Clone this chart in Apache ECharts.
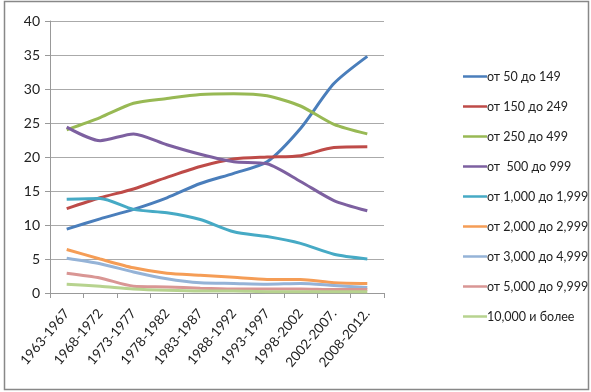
<!DOCTYPE html>
<html><head><meta charset="utf-8">
<script src="https://cdn.jsdelivr.net/npm/echarts@6/dist/echarts.min.js"></script>
<style>html,body{margin:0;padding:0;background:#fff}#c{width:591px;height:392px}</style>
</head><body><div id="c"></div>
<script>
const categories = ['1963-1967','1968-1972','1973-1977','1978-1982','1983-1987','1988-1992','1993-1997','1998-2002','2002-2007.','2008-2012.'];
const seriesNames = ['от 50 до 149','от 150 до 249','от 250 до 499','от  500 до 999','от 1,000 до 1,999','от 2,000 до 2,999','от 3,000 до 4,999','от 5,000 до 9,999','10,000 и более'];
const s50 = [9.4, 10.9, 12.3, 14.0, 16.1, 17.6, 19.3, 24.2, 30.8, 34.8];
const s150 = [12.4, 14.0, 15.3, 17.0, 18.6, 19.7, 20.0, 20.2, 21.4, 21.5];
const s250 = [24.0, 25.8, 27.9, 28.6, 29.2, 29.3, 29.0, 27.5, 24.8, 23.4];
const s500 = [24.4, 22.4, 23.4, 21.8, 20.4, 19.3, 19.0, 16.4, 13.6, 12.1];
const s1000 = [13.8, 13.9, 12.3, 11.8, 10.8, 9.0, 8.3, 7.3, 5.7, 5.0];
const s2000 = [6.4, 5.0, 3.7, 2.9, 2.6, 2.3, 2.0, 2.0, 1.5, 1.4];
const s3000 = [5.1, 4.3, 3.1, 2.1, 1.5, 1.4, 1.3, 1.4, 1.1, 0.8];
const s5000 = [2.9, 2.2, 1.0, 0.9, 0.7, 0.6, 0.6, 0.6, 0.5, 0.5];
const s10000 = [1.3, 1.0, 0.6, 0.4, 0.3, 0.3, 0.2, 0.2, 0.2, 0.2];
const allData = [s50, s150, s250, s500, s1000, s2000, s3000, s5000, s10000];
const colors = ['#4A7EBB','#BE4B48','#98B954','#7D60A0','#46AAC5','#F59D56','#95B3D7','#D99694','#B7D38F'];

const chart = echarts.init(document.getElementById('c'));
chart.setOption({
  animation: false,
  color: colors,
  textStyle: {fontFamily: 'Lato'},
  graphic: [{type:'rect', shape:{x:4.5,y:1.5,width:584,height:388}, style:{fill:'none', stroke:'#888', lineWidth:1.5}, silent:true}],
  grid: {left: 50, right: 207, top: 21, bottom: 99},
  legend: {
    orient: 'vertical', left: 458, top: 65, itemGap: 17,
    itemWidth: 24, itemHeight: 14,
    icon: 'path://M0,6 L24,6 L24,8.5 L0,8.5 Z',
    textStyle: {fontSize: 12.5, color: '#222', fontFamily: 'Lato', padding: [0,0,0,-5]},
    data: seriesNames
  },
  xAxis: {
    type: 'category', data: categories, boundaryGap: true,
    axisLine: {lineStyle: {color: '#999'}},
    axisTick: {show: true, length: 5, lineStyle: {color: '#999'}},
    axisLabel: {rotate: 50, margin: 18, fontSize: 13.5, color: '#222', interval: 0, fontFamily: 'Lato'}
  },
  yAxis: {
    type: 'value', min: 0, max: 40, interval: 5,
    axisLine: {show: true, lineStyle: {color: '#999'}},
    axisTick: {show: true, length: 5, lineStyle: {color: '#999'}},
    axisLabel: {fontSize: 14, color: '#222', margin: 10},
    splitLine: {lineStyle: {color: '#aaa', width: 1}}
  },
  series: allData.map((d, i) => ({
    name: seriesNames[i], type: 'line', data: d, smooth: 0.25,
    showSymbol: false, lineStyle: {width: 3}
  }))
});
</script></body></html>
